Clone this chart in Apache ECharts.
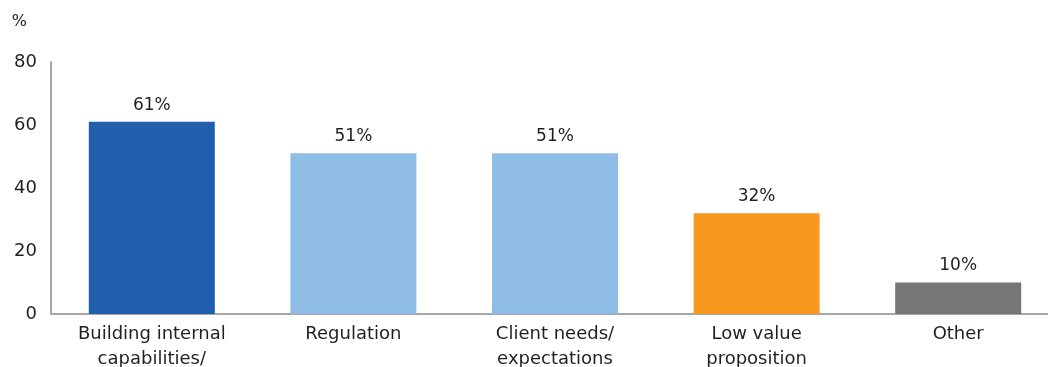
<!DOCTYPE html>
<html>
<head>
<meta charset="utf-8">
<script src="https://cdn.jsdelivr.net/npm/echarts@6/dist/echarts.min.js"></script>
<style>
html,body{margin:0;padding:0;background:#fff;}
#c{width:1048px;height:367px;}
</style>
</head>
<body>
<div id="c"></div>
<script>
const categories = ["Building internal\ncapabilities/", "Regulation", "Client needs/\nexpectations", "Low value\nproposition", "Other"];
const values = [61, 51, 51, 32, 10];
const yTicks = [0, 20, 40, 60, 80];
const unitLabel = "%";
const barColors = ["#1F5FAD", "#8FBDE6", "#8FBDE6", "#F7991F", "#767676"];

const FONT = "DejaVu Sans";
const TXT = "#231F20";
const chart = echarts.init(document.getElementById('c'), null, {renderer: 'canvas'});
chart.setOption({
  animation: false,
  grid: {left: 51, width: 1008, top: 62, bottom: 53, containLabel: false, outerBoundsMode: 'none'},
  xAxis: {
    type: 'category',
    data: categories,
    axisLine: {lineStyle: {color: '#A6A6A6', width: 2}},
    axisTick: {show: false},
    axisLabel: {color: TXT, fontFamily: FONT, fontSize: 18, lineHeight: 25, margin: 8, interval: 0}
  },
  yAxis: {
    type: 'value',
    min: yTicks[0], max: yTicks[yTicks.length - 1], interval: 20,
    name: unitLabel,
    nameLocation: 'end',
    nameGap: 32,
    nameTextStyle: {color: TXT, fontFamily: FONT, fontSize: 16, align: 'right', padding: [0, 24, 0, 0]},
    axisLine: {show: true, lineStyle: {color: '#A6A6A6', width: 2}},
    axisTick: {show: false},
    splitLine: {show: false},
    axisLabel: {color: TXT, fontFamily: FONT, fontSize: 18, margin: 14}
  },
  series: [{
    type: 'bar',
    barWidth: 126,
    data: values.map((v, i) => ({value: v, itemStyle: {color: barColors[i]}})),
    label: {show: true, position: 'top', distance: 8, color: TXT, fontFamily: FONT, fontSize: 17, formatter: p => p.value + '%'}
  }]
});
</script>
</body>
</html>
